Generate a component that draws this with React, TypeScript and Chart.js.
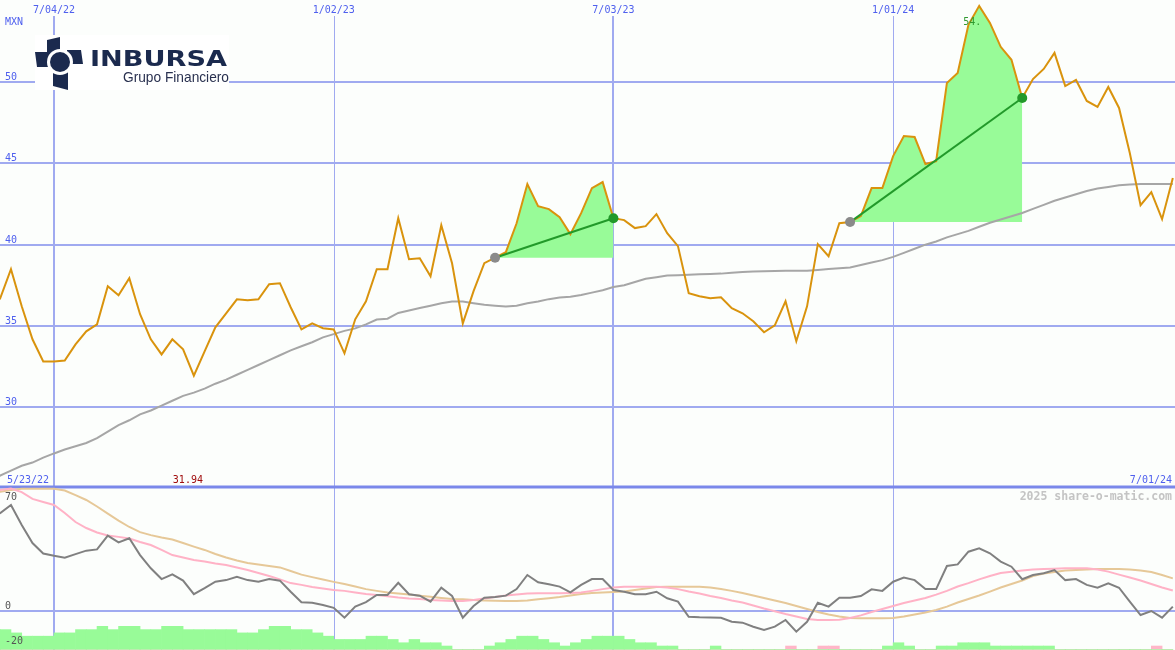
import React, { useEffect, useRef } from 'react';
import { Chart, registerables } from 'chart.js';

Chart.register(...registerables);

// ---------------- data ----------------
const firstWeekLabel = '5/23/22';
const lastWeekLabel = '7/01/24';
const currency = 'MXN';
const watermark = '2025 share-o-matic.com';

// week index 0 = 5/23/22, weekly points
const dateTickWeeks = [6, 32, 58, 84];
const dateTickLabels = ['7/04/22', '1/02/23', '7/03/23', '1/01/24'];
const priceTicks = [50, 45, 40, 35, 30];
const oscTicks = [70, 0, -20];

const price = [
  35.9, 36.7, 38.49, 36.21, 34.18, 32.82, 32.82, 32.88, 33.87, 34.67,
  35.1, 37.44, 36.89, 37.94, 35.72, 34.18, 33.25, 34.18, 33.56, 31.94,
  33.44, 34.92, 35.78, 36.64, 36.58, 36.64, 37.57, 37.63, 36.15, 34.79,
  35.16, 34.86, 34.79, 33.32, 35.41, 36.52, 38.49, 38.49, 41.63, 39.11,
  39.17, 38.06, 41.2, 38.86, 35.16, 37.14, 38.86, 39.2, 39.54, 41.32,
  43.73, 42.37, 42.19, 41.69, 40.65, 41.94, 43.48, 43.85, 41.63, 41.51,
  41.02, 41.14, 41.88, 40.71, 39.91, 37.01, 36.83, 36.7, 36.77, 36.09,
  35.78, 35.29, 34.61, 35.04, 36.52, 34.06, 36.21, 40.03, 39.29, 41.32,
  41.39, 41.76, 43.48, 43.48, 45.45, 46.68, 46.62, 44.96, 45.14, 49.95,
  50.56, 53.52, 54.69, 53.64, 52.17, 51.37, 49.02, 50.19, 50.81, 51.8,
  49.76, 50.13, 48.84, 48.47, 49.7, 48.41, 45.64, 42.43, 43.23, 41.57,
  44.1,
];

const priceAverage = [
  25.3, 25.8, 26.1, 26.4, 26.6, 26.9, 27.16, 27.4, 27.6, 27.8,
  28.1, 28.5, 28.9, 29.2, 29.56, 29.8, 30.1, 30.4, 30.7, 30.9,
  31.15, 31.45, 31.7, 32.0, 32.3, 32.6, 32.9, 33.2, 33.5, 33.75,
  34.0, 34.3, 34.5, 34.7, 34.85, 35.1, 35.4, 35.45, 35.8, 35.95,
  36.1, 36.25, 36.4, 36.5, 36.5, 36.4, 36.3, 36.25, 36.2, 36.25,
  36.4, 36.5, 36.65, 36.75, 36.8, 36.9, 37.05, 37.2, 37.4, 37.5,
  37.7, 37.9, 38.0, 38.1, 38.12, 38.15, 38.18, 38.2, 38.22, 38.28,
  38.32, 38.35, 38.37, 38.38, 38.4, 38.4, 38.4, 38.45, 38.5, 38.55,
  38.6, 38.75, 38.9, 39.05, 39.25, 39.5, 39.75, 40.0, 40.2, 40.45,
  40.65, 40.85, 41.1, 41.35, 41.55, 41.75, 41.95, 42.2, 42.45, 42.7,
  42.9, 43.1, 43.3, 43.45, 43.55, 43.65, 43.7, 43.73, 43.74, 43.74,
  43.74,
];

const oscillator = [
  53.5, 55.9, 60.5, 49.1, 38.9, 33.0, 31.7, 30.6, 32.6, 34.6,
  35.3, 43.1, 39.3, 41.6, 32.1, 24.6, 18.5, 21.2, 17.6, 9.9,
  13.3, 17.0, 17.9, 19.8, 17.9, 17.0, 18.5, 17.6, 11.3, 5.4,
  5.1, 3.8, 2.2, -3.4, 2.9, 5.4, 9.5, 9.5, 16.4, 9.9,
  9.1, 5.7, 13.6, 8.9, -3.4, 3.2, 7.9, 8.3, 9.1, 12.8,
  20.8, 16.7, 15.5, 14.2, 11.0, 15.2, 18.5, 18.5, 12.3, 11.3,
  9.9, 9.9, 11.3, 7.6, 5.7, -2.9, -3.2, -3.3, -3.4, -5.7,
  -6.2, -8.5, -10.3, -8.5, -4.7, -11.3, -5.7, 5.1, 2.9, 7.9,
  7.9, 8.9, 12.7, 11.8, 17.0, 19.3, 17.9, 12.8, 12.8, 25.9,
  26.8, 34.0, 35.9, 33.1, 28.4, 25.5, 18.4, 20.8, 21.8, 23.6,
  17.9, 18.5, 15.2, 13.6, 16.1, 13.6, 5.7, -1.9, 0.4, -3.4,
  2.9,
];

const oscFast = [
  68.9, 68.9, 69.8, 67.8, 63.9, 62.2, 60.5, 55.9, 50.8, 47.4,
  44.9, 43.2, 42.4, 41.5, 39.5, 37.8, 35.0, 32.1, 30.7, 29.3,
  28.4, 27.3, 26.5, 25.1, 23.6, 21.9, 20.2, 18.3, 16.2, 15.2,
  14.0, 13.1, 12.3, 11.8, 10.9, 10.0, 9.5, 8.7, 8.0, 7.5,
  7.2, 6.6, 6.3, 6.1, 6.1, 6.6, 7.5, 8.3, 9.2, 9.7,
  10.3, 10.4, 10.4, 10.4, 10.6, 10.9, 11.8, 12.8, 13.7, 14.2,
  14.2, 14.2, 14.2, 13.7, 12.8, 11.4, 10.3, 8.9, 7.8, 6.4,
  5.2, 3.5, 1.8, 0.3, -1.3, -2.7, -4.1, -4.7, -4.7, -4.5,
  -3.6, -2.1, -0.2, 1.5, 3.2, 4.9, 6.3, 7.8, 9.7, 11.8,
  14.3, 16.2, 18.3, 20.2, 21.9, 22.7, 23.4, 23.9, 24.2, 24.4,
  24.6, 24.6, 24.6, 23.9, 22.7, 21.0, 19.4, 17.7, 15.7, 13.7,
  12.0,
];

const oscSlow = [
  67.8, 68.0, 68.9, 69.6, 69.6, 69.6, 69.6, 68.7, 66.1, 63.3,
  59.6, 55.6, 51.6, 48.0, 45.1, 43.4, 42.0, 40.9, 38.9, 36.9,
  35.0, 32.7, 30.7, 29.0, 27.6, 26.8, 25.9, 25.1, 23.1, 21.0,
  19.6, 18.3, 16.9, 15.7, 14.3, 12.8, 11.8, 10.9, 10.3, 9.7,
  9.1, 8.5, 7.8, 7.2, 7.0, 6.6, 6.4, 6.2, 6.1, 6.1,
  6.3, 7.0, 7.6, 8.3, 9.2, 10.0, 10.6, 10.9, 11.1, 11.4,
  12.3, 13.1, 14.0, 14.2, 14.2, 14.2, 14.2, 13.7, 12.8, 11.8,
  10.6, 9.2, 7.8, 6.3, 4.9, 3.2, 1.5, -0.2, -1.6, -2.7,
  -3.6, -3.7, -3.7, -3.7, -3.6, -2.7, -1.6, -0.4, 1.0, 2.9,
  5.2, 7.2, 9.2, 11.4, 13.7, 15.7, 17.7, 20.2, 21.7, 22.5,
  23.4, 23.6, 23.9, 24.2, 24.2, 24.2, 23.9, 23.4, 22.5, 20.8,
  18.9,
];

// one bar per week interval (week i .. week i+1), signed level
const histogram = [
  6, 6, 5, 4, 4, 4, 5, 5, 6, 6,
  7, 6, 7, 7, 6, 6, 7, 7, 6, 6,
  6, 6, 6, 5, 5, 6, 7, 7, 6, 6,
  5, 4, 3, 3, 3, 4, 4, 3, 2, 3,
  2, 2, 1, 0, 0, 0, 1, 2, 3, 4,
  4, 3, 2, 1, 2, 3, 4, 4, 4, 3,
  2, 2, 1, 1, 0, 0, 0, 1, 0, 0,
  0, 0, 0, 0, -1, 0, 0, -1, -1, 0,
  0, 0, 0, 1, 2, 1, 0, 0, 1, 1,
  2, 2, 2, 1, 1, 1, 1, 1, 1, 0,
  0, 0, 0, 0, 0, 0, 0, 0, -1, 0,
];

const trendStarts = [47, 80];
const trendEnds = [58, 96];

// ---------------- styles ----------------
const W = 1175;
const H = 650;
const BG = '#fcfefc';
const GRID = '#a0aaf0';
const SEPARATOR = '#7a88ea';
const BLUE_TEXT = '#4f60ee';
const GOLD = '#d9930d';
const MA_GRAY = '#a6a6a6';
const OSC_GRAY = '#808080';
const PINK = '#ffb2c6';
const TAN = '#e6c898';
const PALEGREEN = '#98fb98';
const PINK_BAR = '#ffb6c8';
const TREND = '#229a2a';
const MONO = '"DejaVu Sans Mono", monospace';

function drawLogo(ctx: CanvasRenderingContext2D) {
  ctx.save();
  ctx.fillStyle = '#ffffff';
  ctx.fillRect(35, 35, 194, 55);
  const navy = '#1b2a4e';
  ctx.fillStyle = navy;
  ctx.beginPath();
  // top arm
  ctx.moveTo(47, 40);
  ctx.lineTo(60, 37);
  ctx.lineTo(60, 53);
  ctx.lineTo(47, 53);
  ctx.closePath();
  // right arm
  ctx.moveTo(67, 50);
  ctx.lineTo(81, 50);
  ctx.lineTo(83, 64);
  ctx.lineTo(67, 64);
  ctx.closePath();
  // bottom arm
  ctx.moveTo(53, 71);
  ctx.lineTo(68, 71);
  ctx.lineTo(68, 90);
  ctx.lineTo(53, 86);
  ctx.closePath();
  // left arm
  ctx.moveTo(35, 52);
  ctx.lineTo(52, 52);
  ctx.lineTo(52, 67);
  ctx.lineTo(37, 67);
  ctx.closePath();
  ctx.fill();
  ctx.beginPath();
  ctx.arc(60, 62, 13, 0, Math.PI * 2);
  ctx.fillStyle = '#ffffff';
  ctx.fill();
  ctx.beginPath();
  ctx.arc(60, 62, 10, 0, Math.PI * 2);
  ctx.fillStyle = navy;
  ctx.fill();

  ctx.fillStyle = navy;
  ctx.textBaseline = 'alphabetic';
  ctx.textAlign = 'left';
  ctx.font = 'bold 21px "DejaVu Sans"';
  const t1 = 'INBURSA';
  const w1 = ctx.measureText(t1).width;
  ctx.save();
  ctx.translate(90, 65.5);
  ctx.scale(137 / w1, 1);
  ctx.fillText(t1, 0, 0);
  ctx.restore();

  ctx.fillStyle = '#2a3150';
  ctx.font = '15px "Liberation Sans"';
  const t2 = 'Grupo Financiero';
  const w2 = ctx.measureText(t2).width;
  ctx.save();
  ctx.translate(123, 81.5);
  ctx.scale(106 / w2, 1);
  ctx.fillText(t2, 0, 0);
  ctx.restore();
  ctx.restore();
}

const gridPlugin = {
  id: 'gridAndBackground',
  beforeDraw(chart: any) {
    const { ctx } = chart;
    ctx.save();
    ctx.fillStyle = BG;
    ctx.fillRect(0, 0, chart.width, chart.height);
    ctx.restore();
  },
  beforeDatasetsDraw(chart: any) {
    const { ctx } = chart;
    const x = chart.scales.x;
    const yP = chart.scales.yP;
    const yO = chart.scales.yO;
    ctx.save();
    ctx.strokeStyle = GRID;
    ctx.lineWidth = 2;
    priceTicks.forEach((v) => {
      const py = Math.round(yP.getPixelForValue(v));
      ctx.beginPath();
      ctx.moveTo(0, py);
      ctx.lineTo(W, py);
      ctx.stroke();
    });
    const zy = Math.floor(yO.getPixelForValue(0));
    ctx.beginPath();
    ctx.moveTo(0, zy);
    ctx.lineTo(W, zy);
    ctx.stroke();

    dateTickWeeks.forEach((w, i) => {
      const px = x.getPixelForValue(w);
      ctx.beginPath();
      if (i % 2 === 0) {
        ctx.lineWidth = 2;
        ctx.moveTo(Math.round(px), 16);
        ctx.lineTo(Math.round(px), H);
      } else {
        ctx.lineWidth = 1;
        ctx.moveTo(Math.round(px) + 0.5, 16);
        ctx.lineTo(Math.round(px) + 0.5, H);
      }
      ctx.stroke();
    });

    ctx.strokeStyle = SEPARATOR;
    ctx.lineWidth = 3;
    ctx.beginPath();
    ctx.moveTo(0, 487);
    ctx.lineTo(W, 487);
    ctx.stroke();
    ctx.restore();

    drawLogo(ctx);
  },
};

const labelPlugin = {
  id: 'labels',
  afterDatasetsDraw(chart: any) {
    const { ctx } = chart;
    const x = chart.scales.x;
    const yP = chart.scales.yP;
    const yO = chart.scales.yO;
    ctx.save();
    ctx.font = '10px ' + MONO;
    ctx.textBaseline = 'alphabetic';
    ctx.fillStyle = BLUE_TEXT;
    ctx.textAlign = 'center';
    dateTickWeeks.forEach((w, i) => {
      ctx.fillText(dateTickLabels[i], x.getPixelForValue(w), 13);
    });
    ctx.textAlign = 'left';
    ctx.fillText(currency, 5, 25);
    priceTicks.forEach((v) => {
      ctx.fillText(String(v), 5, Math.round(yP.getPixelForValue(v)) - 2);
    });
    ctx.fillText(firstWeekLabel, 7, 483);
    ctx.textAlign = 'right';
    ctx.fillText(lastWeekLabel, 1172, 483);

    // min / max labels
    let minIdx = 1;
    let maxIdx = 1;
    for (let i = 1; i < price.length; i++) {
      if (price[i] < price[minIdx]) minIdx = i;
      if (price[i] > price[maxIdx]) maxIdx = i;
    }
    ctx.textAlign = 'left';
    ctx.fillStyle = '#a00c0c';
    ctx.fillText(price[minIdx].toFixed(2), x.getPixelForValue(minIdx) - 21, 483);

    ctx.fillStyle = '#2f9a2f';
    ctx.fillText(Math.floor(price[maxIdx]) + '.', x.getPixelForValue(maxIdx) - 16, 25);

    // oscillator labels
    ctx.fillStyle = '#555555';
    oscTicks.forEach((v) => {
      const py = yO.getPixelForValue(v);
      let base = py - 2.5;
      if (base - 8 < 488) base = py + 12;
      ctx.fillText(String(v), 5, base);
    });

    ctx.font = 'bold 11.5px ' + MONO;
    ctx.fillStyle = '#c4c4c4';
    ctx.textAlign = 'right';
    ctx.fillText(watermark, 1172, 500);
    ctx.restore();
  },
};

function pts(arr: number[]) {
  return arr.map((v, i) => ({ x: i, y: v }));
}

function buildDatasets() {
  const ds: any[] = [];
  ds.push({
    type: 'line',
    data: pts(price),
    yAxisID: 'yP',
    borderColor: GOLD,
    borderWidth: 2,
    pointRadius: 0,
    fill: false,
    tension: 0,
    order: 1,
  });
  trendStarts.forEach((s, k) => {
    const e = trendEnds[k];
    ds.push({
      type: 'line',
      data: [
        { x: s, y: price[s] },
        { x: e, y: price[e] },
      ],
      yAxisID: 'yP',
      borderColor: TREND,
      borderWidth: 2,
      pointRadius: 5,
      pointBorderWidth: 0,
      pointBackgroundColor: ['#8a8a8a', '#22992a'],
      fill: false,
      order: 0,
    });
    ds.push({
      type: 'line',
      data: price.slice(s, e + 1).map((v, j) => ({ x: s + j, y: v })),
      yAxisID: 'yP',
      borderColor: 'rgba(0,0,0,0)',
      borderWidth: 0,
      backgroundColor: PALEGREEN,
      pointRadius: 0,
      fill: { value: price[s] },
      order: 4,
    });
  });
  ds.push({
    type: 'line',
    data: pts(priceAverage),
    yAxisID: 'yP',
    borderColor: MA_GRAY,
    borderWidth: 2,
    pointRadius: 0,
    fill: false,
    order: 3,
  });
  ds.push({
    type: 'line',
    data: pts(oscillator),
    yAxisID: 'yO',
    borderColor: OSC_GRAY,
    borderWidth: 2,
    pointRadius: 0,
    fill: false,
    order: 5,
  });
  ds.push({
    type: 'line',
    data: pts(oscFast),
    yAxisID: 'yO',
    borderColor: PINK,
    borderWidth: 2,
    pointRadius: 0,
    fill: false,
    order: 6,
  });
  ds.push({
    type: 'line',
    data: pts(oscSlow),
    yAxisID: 'yO',
    borderColor: TAN,
    borderWidth: 2,
    pointRadius: 0,
    fill: false,
    order: 7,
  });
  ds.push({
    type: 'bar',
    data: histogram.map((v, i) => ({ x: i + 0.5, y: Math.max(v, 0) })),
    yAxisID: 'yB',
    backgroundColor: PALEGREEN,
    borderWidth: 0,
    grouped: false,
    barPercentage: 1,
    categoryPercentage: 1,
    order: 8,
  });
  ds.push({
    type: 'bar',
    data: histogram.map((v, i) => ({ x: i + 0.5, y: Math.max(-v, 0) })),
    yAxisID: 'yB',
    backgroundColor: PINK_BAR,
    borderWidth: 0,
    grouped: false,
    barPercentage: 1,
    categoryPercentage: 1,
    order: 9,
  });
  return ds;
}

// pixel layout: 10.758 px per week, week 6 at x=54
const PX_PER_WEEK = 10.758;
const X_MIN = 6 - 54 / PX_PER_WEEK;
const X_MAX = X_MIN + W / PX_PER_WEEK;

export default function App() {
  const ref = useRef<HTMLCanvasElement>(null);
  useEffect(() => {
    document.body.style.margin = '0';
    const canvas = ref.current;
    if (!canvas) return;
    const chart = new Chart(canvas, {
      type: 'line',
      data: { datasets: buildDatasets() },
      options: {
        animation: false,
        responsive: false,
        maintainAspectRatio: false,
        devicePixelRatio: 1,
        events: [],
        layout: { padding: 0, autoPadding: false },
        plugins: {
          legend: { display: false },
          tooltip: { enabled: false },
          title: { display: false },
        },
        scales: {
          x: { type: 'linear', display: false, min: X_MIN, max: X_MAX, offset: false },
          yP: { type: 'linear', display: false, min: 15.07, max: 55.05 },
          yO: { type: 'linear', display: false, min: -21.7, max: 346.6 },
          yB: { type: 'linear', display: false, min: -0.213, max: 197.96 },
        },
      } as any,
      plugins: [gridPlugin, labelPlugin],
    });
    return () => chart.destroy();
  }, []);
  return (
    <div style={{ position: 'absolute', left: 0, top: 0, width: W, height: H }}>
      <canvas ref={ref} width={W} height={H} style={{ display: 'block', width: W, height: H }} />
    </div>
  );
}
